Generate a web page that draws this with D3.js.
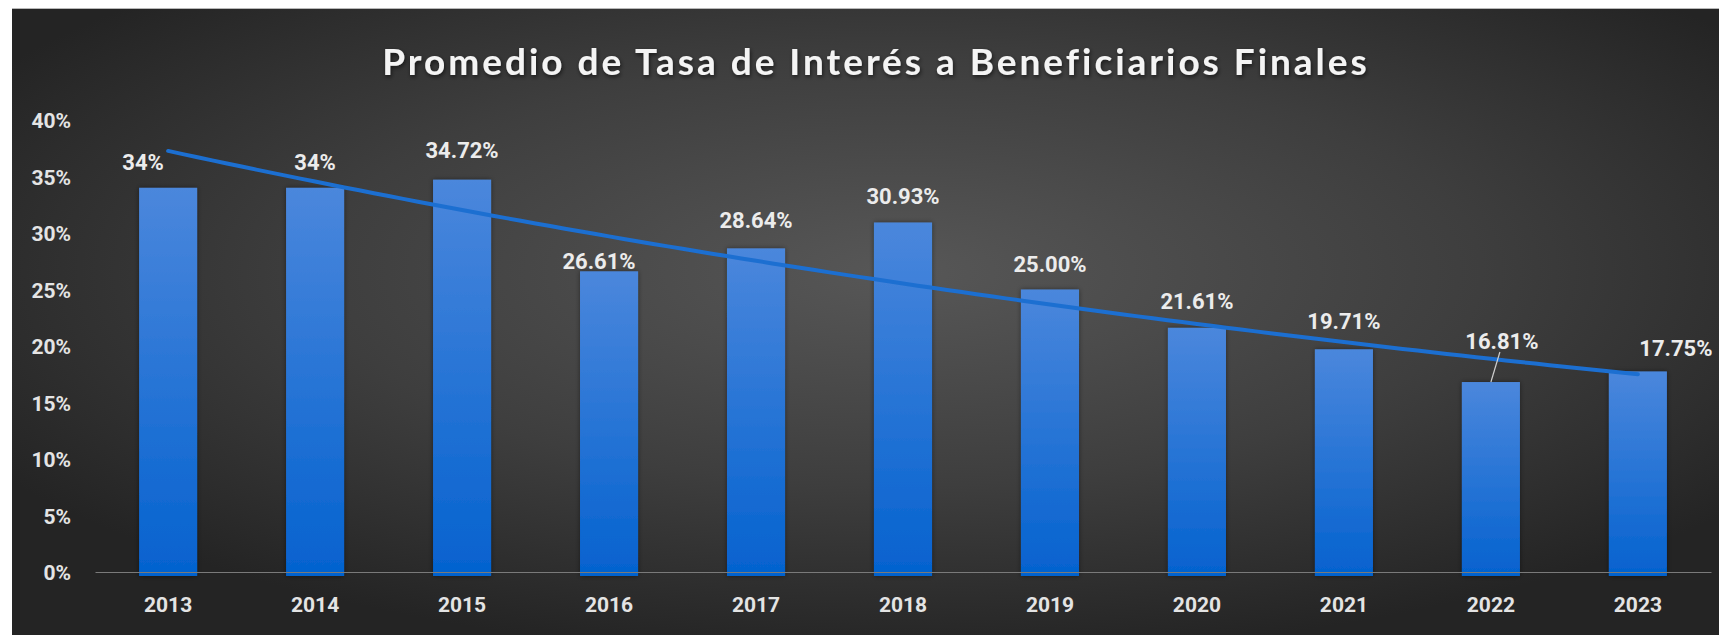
<!DOCTYPE html>
<html>
<head>
  <title> Promedio de Tasa de Interés </title>
  <meta charset='utf-8'/>
  <style>

body {
  margin: 0;
  background: #fff;
}

.tick-label {
  font: bold 21px Roboto, "Liberation Sans", sans-serif;
  fill: #e4e4e4;
}

.value-label {
  font: bold 22px Roboto, "Liberation Sans", sans-serif;
  fill: #ececec;
  text-anchor: middle;
}

.title {
  font: bold 37px Lato, "Open Sans", sans-serif;
  fill: #f4f4f4;
  text-anchor: middle;
}

</style>
  <script src="https://d3js.org/d3.v7.min.js" charset="utf-8"></script>
</head>
<body>
<svg width="1719" height="635"></svg>
<script>

var years = ["2013", "2014", "2015", "2016", "2017", "2018", "2019", "2020", "2021", "2022", "2023"];
var rates = [0.34, 0.34, 0.3472, 0.2661, 0.2864, 0.3093, 0.25, 0.2161, 0.1971, 0.1681, 0.1775];
var rateLabels = ["34%", "34%", "34.72%", "26.61%", "28.64%", "30.93%", "25.00%", "21.61%", "19.71%", "16.81%", "17.75%"];
var yTicks = [0, 0.05, 0.10, 0.15, 0.20, 0.25, 0.30, 0.35, 0.40];

// hand-placed data labels in the original, offsets in px from "outside end"
var labelShift = [[-25, 0], [0, 0], [0, -4], [-10, 16], [0, -2], [0, 0], [0, 0], [0, -1], [0, -2], [11, -15], [38, 3]];

var svg = d3.select("svg"),
    width = +svg.attr("width"),
    height = +svg.attr("height");

var defs = svg.append("defs");

var bg = defs.append("radialGradient")
    .attr("id", "bg")
    .attr("cx", "52%").attr("cy", "42%").attr("r", "62%");
bg.append("stop").attr("offset", "0%").attr("stop-color", "#575757");
bg.append("stop").attr("offset", "55%").attr("stop-color", "#3e3e3e");
bg.append("stop").attr("offset", "100%").attr("stop-color", "#242424");

var barGrad = defs.append("linearGradient")
    .attr("id", "bar")
    .attr("x1", 0).attr("y1", 0).attr("x2", 0).attr("y2", 1);
barGrad.append("stop").attr("offset", "0%").attr("stop-color", "#4b87dc");
barGrad.append("stop").attr("offset", "100%").attr("stop-color", "#0462cf");

var shadow = defs.append("filter").attr("id", "shadow")
    .attr("x", "-10%").attr("y", "-20%").attr("width", "120%").attr("height", "160%");
shadow.append("feDropShadow")
    .attr("dx", 1).attr("dy", 2).attr("stdDeviation", 2)
    .attr("flood-color", "#000").attr("flood-opacity", 0.6);

var barShadow = defs.append("filter").attr("id", "barShadow")
    .attr("x", "-20%").attr("y", "-5%").attr("width", "140%").attr("height", "110%");
barShadow.append("feDropShadow")
    .attr("dx", 0).attr("dy", 0).attr("stdDeviation", 2.5)
    .attr("flood-color", "#000").attr("flood-opacity", 0.45);

svg.append("rect")
    .attr("x", 12).attr("y", 9)
    .attr("width", width - 12).attr("height", height - 9)
    .attr("fill", "url(#bg)");

svg.append("line")
    .attr("x1", 12).attr("x2", width)
    .attr("y1", 8.5).attr("y2", 8.5)
    .attr("stroke", "#b8b8b8");

var x = d3.scaleBand()
    .domain(years)
    .range([95, 1711])
    .paddingInner(0.605)
    .paddingOuter(0.3);

var y = d3.scaleLinear()
    .domain([0, 0.40])
    .range([572, 120]);

svg.append("text")
    .attr("class", "title")
    .attr("x", 876)
    .attr("y", 75)
    .attr("filter", "url(#shadow)")
    .text("Promedio de Tasa de Interés a Beneficiarios Finales");

var title = svg.select(".title");
var titleLen = title.node().getComputedTextLength();
title.style("letter-spacing", ((987 - titleLen) / 51) + "px");

// y axis
var yAxis = svg.append("g")
    .attr("transform", "translate(71,0)")
    .call(d3.axisLeft(y).tickValues(yTicks).tickFormat(d3.format(".0%")).tickSize(0).tickPadding(0));
yAxis.select(".domain").remove();
yAxis.selectAll("text")
    .attr("class", "tick-label")
    .attr("fill", null)
    .attr("dy", "0.36em")
    .style("font-size", null);

// bars
svg.append("g").selectAll("rect")
    .data(rates)
  .enter().append("rect")
    .attr("x", function(d, i) { return x(years[i]); })
    .attr("y", function(d) { return y(d); })
    .attr("width", x.bandwidth())
    .attr("height", function(d) { return y(0) - y(d) + 4; })
    .attr("fill", "url(#bar)")
    .attr("filter", "url(#barShadow)");

// x axis
var xAxis = svg.append("g")
    .attr("transform", "translate(0," + y(0) + ")")
    .call(d3.axisBottom(x).tickSize(0).tickPadding(0).tickSizeOuter(0));
xAxis.select(".domain")
    .attr("stroke", "#7a7a7a")
    .attr("stroke-width", 1.2);
xAxis.selectAll("text")
    .attr("class", "tick-label")
    .attr("fill", null)
    .attr("text-anchor", "middle")
    .attr("dy", 40)
    .style("font-size", null);

// exponential trendline, least squares on ln(rate) like Excel does
var idx = rates.map(function(d, i) { return i; });
var mx = d3.mean(idx),
    my = d3.mean(rates, function(d) { return Math.log(d); });
var b = d3.sum(idx, function(i) { return (i - mx) * (Math.log(rates[i]) - my); }) /
        d3.sum(idx, function(i) { return (i - mx) * (i - mx); });
var a = Math.exp(my - b * mx);

var step = x.step(),
    x0 = x(years[0]) + x.bandwidth() / 2;
var trendPts = d3.range(0, years.length - 1 + 0.001, 0.1);

var trend = d3.line()
    .x(function(t) { return x0 + t * step; })
    .y(function(t) { return y(a * Math.exp(b * t)); });

svg.append("path")
    .datum(trendPts)
    .attr("d", trend)
    .attr("fill", "none")
    .attr("stroke", "#1c6fd1")
    .attr("stroke-width", 4)
    .attr("stroke-linecap", "round");

// data labels
function labelX(d, i) { return x(years[i]) + x.bandwidth() / 2 + labelShift[i][0]; }
function labelY(d, i) { return y(d) - 18 + labelShift[i][1]; }

svg.append("g").selectAll("text")
    .data(rates)
  .enter().append("text")
    .attr("class", "value-label")
    .attr("x", labelX)
    .attr("y", labelY)
    .text(function(d, i) { return rateLabels[i]; });

// leader line for the 2022 label, which was dragged away from its bar
var moved = idx.filter(function(i) { return labelShift[i][1] < -10; });

svg.append("g").selectAll("line")
    .data(moved)
  .enter().append("line")
    .attr("x1", function(i) { return labelX(rates[i], i) - 2; })
    .attr("y1", function(i) { return labelY(rates[i], i) + 3; })
    .attr("x2", function(i) { return x(years[i]) + x.bandwidth() / 2; })
    .attr("y2", function(i) { return y(rates[i]); })
    .attr("stroke", "#cfcfcf")
    .attr("stroke-width", 1.2);

</script>
</body>
</html>
